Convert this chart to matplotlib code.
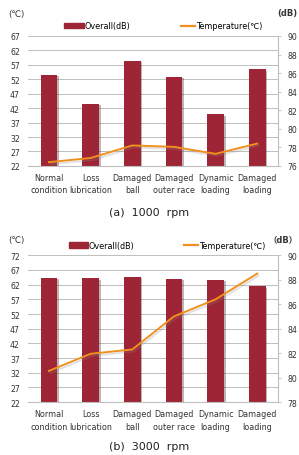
import matplotlib
matplotlib.use("Agg")
import matplotlib.pyplot as plt
import matplotlib.patheffects as pe
from matplotlib.patches import Patch
from matplotlib.lines import Line2D

plt.rcParams["font.family"] = ["Liberation Sans Narrow", "DejaVu Sans", "Noto Sans CJK SC"]

categories = ["Normal\ncondition", "Loss\nlubrication", "Damaged\nball",
              "Damaged\nouter race", "Dynamic\nloading", "Damaged\nloading"]

# (a) 1000 rpm
overall_1000 = [53.6, 43.5, 58.4, 52.7, 39.8, 55.4]
temp_1000 = [76.4, 76.85, 78.2, 78.05, 77.3, 78.4]
left_ticks_1000 = [22, 27, 32, 37, 42, 47, 52, 57, 62, 67]
right_ticks_1000 = [76, 78, 80, 82, 84, 86, 88, 90]

# (b) 3000 rpm
overall_3000 = [64.3, 64.1, 64.5, 63.8, 63.5, 61.4]
temp_3000 = [80.55, 81.95, 82.3, 85.0, 86.4, 88.5]
left_ticks_3000 = [22, 27, 32, 37, 42, 47, 52, 57, 62, 67, 72]
right_ticks_3000 = [78, 80, 82, 84, 86, 88, 90]

BAR = "#9E2535"
LINE = "#F0901E"
GRID = "#BFBFBF"

fig = plt.figure(figsize=(2.99, 4.56), dpi=100)


def panel(rect, overall, temp, lticks, rticks, caption, cap_y, unit_y, db_label, leg_x):
    ax = fig.add_axes(rect)
    x = range(len(categories))
    ax.bar(x, overall, width=0.4, color=BAR, zorder=2,
           path_effects=[pe.SimplePatchShadow(offset=(1.2, -0.8), alpha=0.3), pe.Normal()])
    ax.set_xlim(-0.5, len(categories) - 0.5)
    ax.set_ylim(lticks[0], lticks[-1])
    ax.set_yticks(lticks)
    ax.set_xticks(list(x))
    ax.set_xticklabels(categories, fontsize=5.8, color="#333333", linespacing=1.5)
    ax.tick_params(axis="y", length=0, labelsize=5.6, colors="#333333", pad=6)
    ax.tick_params(axis="x", length=0, pad=5)
    ax.yaxis.grid(True, color=GRID, linewidth=0.7)
    ax.set_axisbelow(True)
    for s in ["left", "top", "right"]:
        ax.spines[s].set_visible(False)
    ax.spines["bottom"].set_color(GRID)
    ax.spines["bottom"].set_linewidth(0.8)

    ax2 = ax.twinx()
    ax2.plot(x, temp, color=LINE, linewidth=1.4, zorder=3,
             path_effects=[pe.SimpleLineShadow(offset=(1.0, -1.5), shadow_color="#888888", alpha=0.25),
                           pe.Normal()])
    ax2.set_ylim(rticks[0], rticks[-1])
    ax2.set_yticks(rticks)
    ax2.tick_params(axis="y", length=2.5, width=0.6, labelsize=5.6,
                    labelcolor="#333333", color=GRID, pad=4)
    for s in ["left", "top", "bottom"]:
        ax2.spines[s].set_visible(False)
    ax2.spines["right"].set_color(GRID)
    ax2.spines["right"].set_linewidth(0.8)

    # two separate legend entries, placed like the original
    leg_y = rect[1] + rect[3] + 0.012
    fig.legend([Patch(color=BAR)], ["Overall(dB)"], frameon=False, fontsize=5.8,
               loc="lower left", bbox_to_anchor=(leg_x[0], leg_y),
               handlelength=2.4, handleheight=0.7, handletextpad=0.1,
               borderaxespad=0, borderpad=0)
    fig.legend([Line2D([0], [0], color=LINE, linewidth=1.6)], ["Temperature(℃)"],
               frameon=False, fontsize=5.8, loc="lower left",
               bbox_to_anchor=(leg_x[1], leg_y), handlelength=1.8, handletextpad=0.1,
               borderaxespad=0, borderpad=0)

    fig.text(0.027, unit_y, "(℃)", fontsize=6.2, color="#333333", ha="left", va="center")
    fig.text(0.995, unit_y + 0.002, db_label, fontsize=6, color="#333333",
             ha="right", va="center", fontweight="bold")
    fig.text(0.5, cap_y, caption, fontsize=8, color="#222222", ha="center", va="center")


panel([0.094, 0.634, 0.836, 0.285], overall_1000, temp_1000,
      left_ticks_1000, right_ticks_1000, "(a)  1000  rpm", 0.533, 0.969, "(dB)",
      (0.215, 0.605))
panel([0.094, 0.116, 0.836, 0.322], overall_3000, temp_3000,
      left_ticks_3000, right_ticks_3000, "(b)  3000  rpm", 0.020, 0.473, "（dB）",
      (0.23, 0.615))

fig.savefig("out.png", dpi=100)
